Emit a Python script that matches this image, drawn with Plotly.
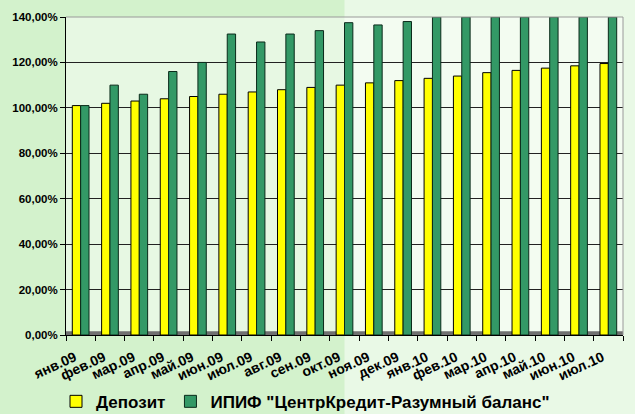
import plotly.graph_objects as go

categories = ["янв.09", "фев.09", "мар.09", "апр.09", "май.09", "июн.09", "июл.09",
              "авг.09", "сен.09", "окт.09", "ноя.09", "дек.09", "янв.10", "фев.10",
              "мар.10", "апр.10", "май.10", "июн.10", "июл.10"]
deposit = [101, 102, 103, 104, 105, 106, 107, 108, 109, 110, 111, 112, 113, 114,
           115.5, 116.5, 117.5, 118.5, 119.5]
fund = [101, 110, 106, 116, 120, 132.5, 129, 132.5, 134, 137.5, 136.5, 138, 140,
        140, 140, 140, 140, 140, 140]
y_ticks = [0, 20, 40, 60, 80, 100, 120, 140]
y_tick_labels = ["0,00%", "20,00%", "40,00%", "60,00%", "80,00%", "100,00%", "120,00%", "140,00%"]
series_names = ["Депозит", 'ИПИФ "ЦентрКредит-Разумный баланс"']

font_family = '"Liberation Sans", Arimo, Arial, sans-serif'

def b(s):
    return "<b>" + s + "</b>"

fig = go.Figure()
fig.add_trace(go.Bar(x=categories, y=deposit, name=b(series_names[0]),
                     marker=dict(color="#FFFF00", line=dict(color="#000000", width=1))))
fig.add_trace(go.Bar(x=categories, y=fund, name=b(series_names[1]),
                     marker=dict(color="#339966", line=dict(color="#0a2a1a", width=1))))

fig.update_layout(
    width=635, height=414,
    margin=dict(l=66, r=12, t=17, b=79, autoexpand=False),
    barmode="group", bargap=0.43, bargroupgap=0.0,
    paper_bgcolor="#d3f2cc",
    plot_bgcolor="rgba(255,255,255,0.45)",
    font=dict(family=font_family, size=11, color="#000000"),
    showlegend=True,
    legend=dict(orientation="h", x=0.43, xanchor="center", y=-0.21, yanchor="middle",
                font=dict(family=font_family, size=17, color="#000000"),
                bgcolor="rgba(0,0,0,0)", itemwidth=30, tracegroupgap=0,
                traceorder="normal"),
    shapes=[
        dict(type="rect", xref="paper", yref="paper", x0=0.5, x1=1.05, y0=-0.3, y1=1.06,
             fillcolor="rgba(255,255,255,0.5)", line=dict(width=0), layer="below"),
        dict(type="rect", xref="paper", yref="paper", x0=0, x1=1, y0=0, y1=0.012,
             fillcolor="#707070", line=dict(width=0), layer="below"),
    ],
)
fig.update_xaxes(
    type="category", tickangle=-25, tickson="boundaries", ticks="outside", ticklen=5,
    tickvals=categories, ticktext=[b(c) for c in categories],
    ticklabelstandoff=8, ticklabelshift=-6,
    tickcolor="#000000", showline=True, linecolor="#000000", linewidth=1,
    tickfont=dict(family=font_family, size=14), showgrid=False, automargin=False,
)
fig.update_yaxes(
    range=[0, 140], tickvals=y_ticks, ticktext=[b(t) for t in y_tick_labels],
    ticks="outside", ticklen=5,
    tickcolor="#000000", showline=True, linecolor="#000000", linewidth=1,
    showgrid=True, gridcolor="#222222", gridwidth=1, zeroline=False,
    tickfont=dict(family=font_family, size=11.5), automargin=False,
)
fig.add_shape(type="line", xref="paper", yref="paper", x0=1, x1=1, y0=0, y1=1,
              line=dict(color="#9a9a9a", width=1))
fig.add_shape(type="line", xref="paper", yref="paper", x0=0, x1=1, y0=1, y1=1,
              line=dict(color="#9a9a9a", width=1))

fig.write_html("out.html", config={"displayModeBar": False},
               post_script="document.body.style.margin='0px';document.body.style.overflow='hidden';")
